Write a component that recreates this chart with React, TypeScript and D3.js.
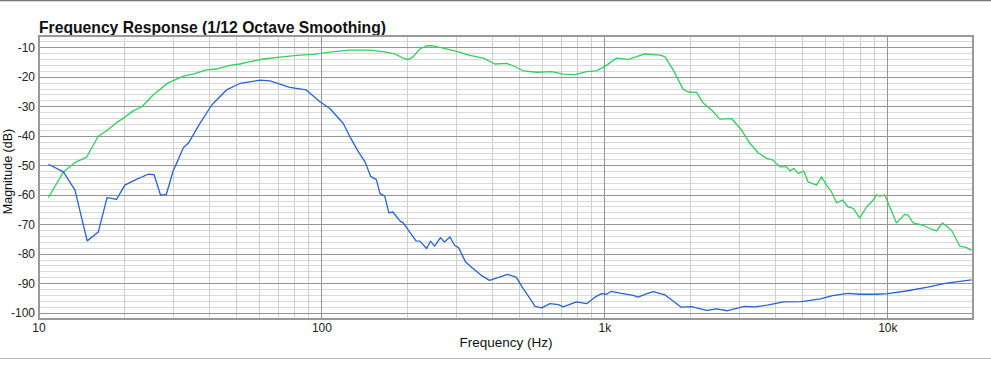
import { useMemo } from 'react';
import * as d3 from 'd3';

const greenFreq = [10.8, 12.2, 13.4, 14.7, 16.2, 17.3, 18.8, 20.1, 21.5, 23.1, 25.3, 28.6, 32.4, 35.1, 39.1, 42.4, 47.3, 51.3, 55.7, 62.1, 71.1, 81.4, 93.1, 106.7, 125.6, 147.8, 164.8, 181.1, 193.8, 201.8, 210.2, 222, 234.4, 244.2, 268.3, 299.2, 333.3, 371.5, 408.6, 449.6, 474.2, 514.4, 573.8, 648.2, 712.4, 783.4, 861.6, 934.9, 1000, 1100, 1209, 1385, 1564, 1629, 1697, 1743, 1891, 1970, 2109, 2225, 2383, 2550, 2804, 3041, 3253, 3481, 3728, 3933, 4153, 4386, 4506, 4654, 4820, 5049, 5229, 5598, 5831, 6074, 6324, 6587, 6918, 7240, 7541, 7962, 8411, 8873, 9120, 9370, 9759, 10160, 10730, 11480, 11800, 12290, 13330, 14070, 14860, 15610, 16790, 17970, 18970, 19760];
const greenDb = [-60.8, -52.1, -48.9, -47.2, -40.0, -38.2, -35.4, -33.6, -31.4, -30.0, -26.0, -21.9, -19.6, -18.9, -17.5, -17.2, -16.0, -15.5, -14.7, -13.8, -13.2, -12.6, -12.2, -11.5, -10.8, -10.8, -11.3, -12.1, -13.5, -14.0, -13.0, -10.4, -9.3, -9.3, -10.1, -11.2, -12.6, -13.5, -15.5, -15.3, -16.1, -17.8, -18.3, -18.1, -18.9, -19.1, -18.1, -17.8, -16.3, -13.5, -13.9, -12.1, -12.5, -13.0, -15.7, -17.5, -24.1, -25.0, -25.1, -28.7, -31.1, -34.2, -34.0, -37.9, -42.4, -45.6, -47.5, -48.1, -50.4, -50.4, -51.8, -50.9, -52.6, -51.8, -55.5, -56.6, -53.8, -56.6, -58.9, -62.6, -61.7, -64.0, -64.5, -67.7, -64.0, -61.7, -59.9, -60.3, -59.9, -64.0, -69.4, -66.5, -66.8, -69.4, -70.2, -71.3, -72.1, -69.4, -71.9, -77.3, -77.8, -78.7];

const blueFreq = [10.8, 12.2, 13.4, 14.8, 16.2, 17.4, 18.8, 20.1, 21.8, 24.3, 25.5, 26.9, 28.2, 29.8, 31.0, 32.4, 33.7, 37.0, 40.8, 46.0, 51.3, 60.5, 65.5, 77, 88, 98.4, 106.7, 119, 125.6, 134.6, 142, 148.6, 155.7, 160.3, 166.7, 172.4, 178.1, 188.9, 193.8, 204.3, 215, 222, 234.4, 241.8, 250.1, 262.4, 271, 283.5, 294.2, 304, 322, 342, 365.6, 391, 424, 452.8, 486, 514.4, 543.9, 566.5, 597.5, 640, 685, 712, 794, 862, 922, 973, 1013, 1053, 1130, 1259, 1311, 1400, 1484, 1629, 1862, 2020, 2294, 2480, 2712, 3105, 3390, 3755, 4280, 4940, 5780, 6375, 7240, 7960, 9120, 10000, 11620, 13840, 16100, 19760];
const blueDb = [-49.5, -52.1, -58.3, -75.5, -72.5, -60.8, -61.4, -56.6, -54.9, -52.9, -53.0, -60.0, -59.7, -51.7, -48.1, -43.8, -42.4, -35.7, -29.4, -24.3, -22.1, -21.0, -21.2, -23.4, -24.3, -28.3, -30.6, -35.7, -40.2, -45.3, -48.7, -53.6, -54.7, -59.4, -60.3, -66.0, -65.7, -68.8, -69.4, -72.5, -75.5, -75.6, -78.1, -75.6, -77.3, -74.4, -75.9, -74.2, -77.0, -77.8, -82.7, -84.9, -87.2, -88.9, -87.8, -86.9, -87.8, -91.7, -95.1, -97.7, -98.2, -96.8, -97.1, -97.9, -96.2, -96.8, -94.6, -93.4, -93.6, -92.6, -93.2, -94.0, -94.6, -93.5, -92.7, -93.8, -98.0, -97.8, -99.1, -98.6, -99.2, -97.7, -97.9, -97.3, -96.2, -96.1, -95.2, -94.1, -93.3, -93.6, -93.6, -93.4, -92.5, -91.2, -89.8, -88.7];

const yTicks = [-10, -20, -30, -40, -50, -60, -70, -80, -90, -100];
const xTicks = [10, 100, 1000, 10000];
const xTickLabels = ['10', '100', '1k', '10k'];

const W = 991;
const H = 369;
const margin = { left: 39, right: 18, top: 36, bottom: 50 };

export default function App() {
  const x = d3.scaleLog().domain([10, 20000]).range([margin.left, W - margin.right]);
  const y = d3.scaleLinear().domain([-102, -6]).range([H - margin.bottom, margin.top]);

  // straight segments, like the original plot
  const line = d3
    .line<[number, number]>()
    .x(d => x(d[0]))
    .y(d => y(d[1]));

  const greenPath = line(greenFreq.map((f, i) => [f, greenDb[i]]) as [number, number][]);
  const bluePath = line(blueFreq.map((f, i) => [f, blueDb[i]]) as [number, number][]);

  const minorX = useMemo(() => {
    const out: number[] = [];
    for (const dec of [10, 100, 1000, 10000]) {
      for (let m = 2; m <= 9; m++) {
        const v = dec * m;
        if (v < 20000) out.push(v);
      }
    }
    return out;
  }, []);
  const minorY = d3.range(-102, -5, 2).filter(v => v % 10 !== 0);

  const [x0, x1] = x.range();
  const [y0, y1] = y.range();
  const font = 'Liberation Sans, Arial, Helvetica, sans-serif';

  return (
    <svg width={W} height={H} style={{ position: 'absolute', left: 0, top: 0, background: '#fff' }}>
      <line x1={0} x2={W} y1={0.5} y2={0.5} stroke="#777" strokeWidth={1.5} />
      <line x1={0} x2={W} y1={358.5} y2={358.5} stroke="#bbb" strokeWidth={1} />

      <text x={39} y={32.5} fontFamily={font} fontWeight="bold" fontSize={15.7} fill="#111">
        Frequency Response (1/12 Octave Smoothing)
      </text>

      <g shapeRendering="crispEdges">
        {minorY.map(v => (
          <line key={'my' + v} x1={x0} x2={x1} y1={y(v)} y2={y(v)} stroke="#d9d9d9" />
        ))}
        {minorX.map(v => (
          <line key={'mx' + v} x1={x(v)} x2={x(v)} y1={y1} y2={y0} stroke="#d0d0d0" />
        ))}
        {yTicks.map(v => (
          <line key={'Y' + v} x1={x0} x2={x1} y1={y(v)} y2={y(v)} stroke="#959595" />
        ))}
        {xTicks.map(v => (
          <line key={'X' + v} x1={x(v)} x2={x(v)} y1={y1} y2={y0} stroke="#959595" />
        ))}
        <rect x={x0} y={y1} width={x1 - x0} height={y0 - y1} fill="none" stroke="#999" strokeWidth={1.5} />
      </g>

      <path d={greenPath ?? ''} fill="none" stroke="#2fd25a" strokeWidth={1.3} strokeLinejoin="round" />
      <path d={bluePath ?? ''} fill="none" stroke="#2563d8" strokeWidth={1.3} strokeLinejoin="round" />

      {yTicks.map(v => (
        <text key={'yt' + v} x={35} y={y(v)} dy="0.35em" textAnchor="end" fontFamily={font} fontSize={12} fill="#222">
          {v}
        </text>
      ))}
      {xTicks.map((v, i) => (
        <text key={'xt' + v} x={x(v)} y={332} textAnchor="middle" fontFamily={font} fontSize={12} fill="#222">
          {xTickLabels[i]}
        </text>
      ))}

      <text x={(x0 + x1) / 2} y={347} textAnchor="middle" fontFamily={font} fontSize={13.5} fill="#111">
        Frequency (Hz)
      </text>
      <text
        transform={`translate(12, ${(y0 + y1) / 2 - 6}) rotate(-90)`}
        textAnchor="middle"
        fontFamily={font}
        fontSize={12.5}
        fill="#111"
      >
        Magnitude (dB)
      </text>
    </svg>
  );
}
